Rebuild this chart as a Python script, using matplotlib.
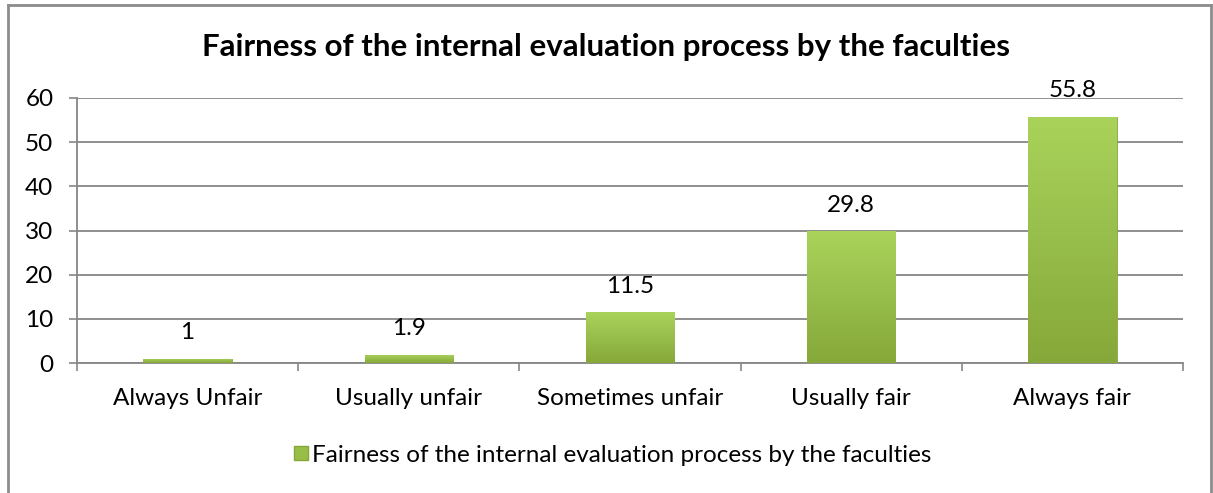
import matplotlib
matplotlib.use("Agg")
import matplotlib.pyplot as plt
import numpy as np
from matplotlib.colors import LinearSegmentedColormap
from matplotlib.lines import Line2D
from matplotlib.patches import Patch

categories = ["Always Unfair", "Usually unfair", "Sometimes unfair", "Usually fair", "Always fair"]
values = [1, 1.9, 11.5, 29.8, 55.8]
value_labels = ["1", "1.9", "11.5", "29.8", "55.8"]
yticks = [0, 10, 20, 30, 40, 50, 60]
title = "Fairness of the internal evaluation process by the faculties"
series_name = "Fairness of the internal evaluation process by the faculties"

plt.rcParams['font.family'] = ['Lato', 'DejaVu Sans']
W, H = 1213, 493
fig = plt.figure(figsize=(W/100, H/100), dpi=100)
ax = fig.add_axes([77/W, 1-363/H, (1183-77)/W, (363-98)/H])

gray = "#868686"
fs = 17.5
x = np.arange(len(categories))
bars = ax.bar(x, values, width=0.4, color="#98be48", edgecolor="#86a63a", linewidth=0.6, zorder=3)

cmap = LinearSegmentedColormap.from_list("g", ["#86a83a", "#a9d35b"])
grad = np.linspace(0, 1, 256).reshape(-1, 1)
for b in bars:
    bx, by = b.get_x(), b.get_y()
    bw, bh = b.get_width(), b.get_height()
    im = ax.imshow(grad, cmap=cmap, origin="lower", aspect="auto",
                   extent=[bx, bx+bw, by, by+bh], zorder=3.5)
    im.set_clip_path(b)

for xi, v, lab in zip(x, values, value_labels):
    ax.annotate(lab, (xi, v), xytext=(0, 11), textcoords="offset points",
                ha="center", va="bottom", fontsize=fs, color="black")

ax.set_xlim(-0.5, len(categories)-0.5)
ax.set_ylim(0, 60)
ax.set_yticks(yticks)
ax.set_yticklabels([str(t) for t in yticks], fontsize=fs)
ax.set_xticks(x)
ax.set_xticklabels(categories, fontsize=fs)
ax.set_xticks(np.arange(len(categories)+1) - 0.5, minor=True)
ax.tick_params(axis="x", which="major", length=0, pad=18)
ax.tick_params(axis="x", which="minor", length=6, width=1.2, color=gray, direction="out")
ax.tick_params(axis="y", length=6, width=1.2, color=gray, pad=11)
ax.yaxis.grid(True, color=gray, linewidth=1.3, zorder=0)
ax.set_axisbelow(True)
for s in ["top", "right"]:
    ax.spines[s].set_visible(False)
for s in ["left", "bottom"]:
    ax.spines[s].set_color(gray)
    ax.spines[s].set_linewidth(1.3)

fig.text(606/W, 1-47/H, title, ha="center", va="center", fontsize=22.5, fontweight="bold")

handle = Patch(facecolor="#98be48", edgecolor="#86a63a")
fig.legend([handle], [series_name], loc="center", bbox_to_anchor=(613/W, 1-455/H),
           frameon=False, fontsize=fs, handlelength=0.55, handleheight=0.55, handletextpad=0.2)

# outer chart border (left, top, right)
bc = "#8c8c8c"
fig.add_artist(Line2D([8/W, 8/W], [0, 1-5/H], transform=fig.transFigure, color=bc, lw=2))
fig.add_artist(Line2D([8/W, 1211/W], [1-5/H, 1-5/H], transform=fig.transFigure, color=bc, lw=2))
fig.add_artist(Line2D([1211/W, 1211/W], [0, 1-5/H], transform=fig.transFigure, color=bc, lw=2))

fig.savefig("out.png", dpi=100)
